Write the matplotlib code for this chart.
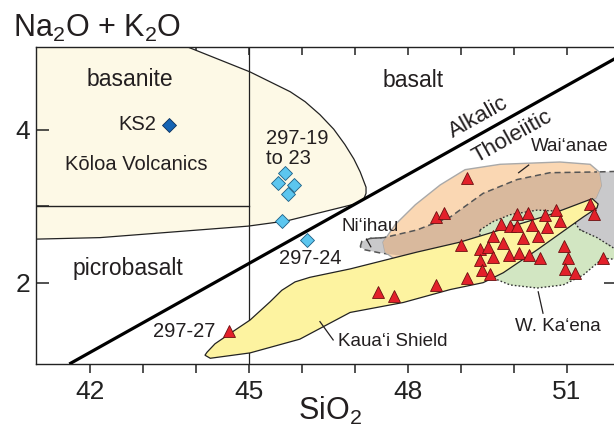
import matplotlib
matplotlib.use("Agg")
import matplotlib.pyplot as plt
from matplotlib.patches import Polygon

plt.rcParams['font.family'] = ['Liberation Sans', 'DejaVu Sans']
plt.rcParams['mathtext.fontset'] = 'custom'
plt.rcParams['mathtext.rm'] = 'Liberation Sans'
plt.rcParams['mathtext.it'] = 'Liberation Sans'

# ---------------- data ----------------
x_major = [42, 45, 48, 51]
x_minor = [43, 44, 46, 47, 49, 50]
y_ticks = [2, 3, 4]
y_labels = ['2', '', '4']

# field outlines (SiO2, Na2O+K2O)
koloa_x = [40.97, 43.83, 45.02, 45.78, 46.06, 46.34, 46.60, 46.81, 46.98, 47.10, 47.21, 47.21, 47.17, 47.00, 45.72, 44.98, 42.19, 40.97]
koloa_y = [5.09, 5.09, 4.76, 4.50, 4.37, 4.20, 4.01, 3.81, 3.62, 3.45, 3.25, 3.17, 3.10, 3.03, 2.81, 2.74, 2.59, 2.57]

niihau_x = [47.10, 47.13, 47.29, 47.55, 48.17, 48.80, 49.42, 50.06, 50.68, 51.57, 52.10, 52.10, 51.89, 51.25, 50.50, 49.36, 48.23, 47.47, 47.19]
niihau_y = [2.47, 2.54, 2.58, 2.59, 2.69, 2.86, 3.17, 3.35, 3.44, 3.45, 3.46, 2.43, 2.45, 2.69, 2.56, 2.36, 2.32, 2.39, 2.43]

waianae_x = [47.53, 47.76, 48.14, 48.61, 49.08, 49.74, 50.87, 51.44, 51.61, 51.65, 51.55, 51.25, 50.50, 49.74, 48.98, 48.23, 47.76, 47.57]
waianae_y = [2.53, 2.76, 3.02, 3.28, 3.48, 3.55, 3.58, 3.55, 3.45, 3.27, 3.11, 3.02, 2.89, 2.72, 2.53, 2.32, 2.30, 2.40]

kaena_x = [49.36, 49.61, 49.93, 50.44, 51.00, 51.25, 51.57, 51.89, 52.00, 51.68, 51.31, 50.93, 50.44, 49.93, 49.61, 49.42, 49.36]
kaena_y = [2.69, 2.80, 2.89, 2.95, 2.93, 2.69, 2.59, 2.45, 2.30, 2.32, 2.10, 1.97, 1.93, 1.97, 2.06, 2.21, 2.43]

kauai_x = [44.21, 44.36, 44.74, 45.02, 45.40, 45.62, 45.87, 46.15, 46.91, 48.17, 48.98, 49.74, 50.68, 51.25, 51.48, 51.59,
           51.57, 51.31, 50.44, 49.80, 49.42, 48.80, 47.91, 46.91, 45.96, 45.02, 44.27, 44.17]
kauai_y = [1.09, 1.20, 1.38, 1.51, 1.75, 1.90, 2.01, 2.07, 2.18, 2.40, 2.53, 2.69, 2.89, 3.04, 3.10, 3.03,
           2.98, 2.86, 2.43, 2.13, 2.00, 1.91, 1.74, 1.61, 1.26, 1.08, 1.01, 1.05]

# boundaries
alk_x = [41.61, 51.95]
alk_y = [0.935, 4.95]
basanite_line_x = [40.97, 45.0]
basanite_line_y = [3.0, 3.0]

# samples
kauai_sio2 = [49.11, 48.53, 48.68, 49.00, 49.75, 50.06, 50.27, 50.59, 50.80, 50.87, 51.43, 51.52, 49.61, 49.92,
              50.18, 50.45, 49.80, 49.36, 49.51, 49.60, 49.90, 50.09, 50.29, 50.50, 49.36, 49.39, 49.55, 49.11,
              48.53, 47.44, 47.74, 50.94, 51.03, 50.97, 51.16, 51.68, 50.06, 50.34, 50.62, 44.63]
kauai_alk = [3.37, 2.86, 2.91, 2.49, 2.77, 2.90, 2.91, 2.89, 2.95, 2.81, 3.03, 2.90, 2.61, 2.74,
             2.58, 2.61, 2.52, 2.44, 2.47, 2.33, 2.36, 2.39, 2.36, 2.32, 2.30, 2.16, 2.11, 2.06,
             1.97, 1.88, 1.82, 2.48, 2.32, 2.18, 2.13, 2.32, 2.74, 2.76, 2.73, 1.37]

s297_sio2 = [45.68, 45.55, 45.85, 45.74, 45.62, 46.10]
s297_alk = [3.43, 3.31, 3.28, 3.16, 2.81, 2.56]

ks2_sio2 = [43.49]
ks2_alk = [4.07]

# ---------------- figure ----------------
fig = plt.figure(figsize=(6.14, 4.34), dpi=100)
ax = fig.add_axes([0.0581, 0.1613, 0.9419, 0.7311])
ax.set_xlim(40.975, 51.89)
ax.set_ylim(0.935, 5.09)

def poly(xs, ys, **kw):
    p = Polygon(list(zip(xs, ys)), closed=True, **kw)
    ax.add_patch(p)
    return p

poly(koloa_x, koloa_y, facecolor='#fdf9e6', edgecolor='#222222', lw=0.9, zorder=1, joinstyle='round')
grey = poly(niihau_x, niihau_y, facecolor='#c9c9cb', edgecolor='#555555', lw=1.1, ls=(0, (4, 2.5)), zorder=2)
tan = poly(waianae_x, waianae_y, facecolor='#fad7b3', edgecolor='#a9a9a9', lw=1.0, zorder=2.5)
over = poly(waianae_x, waianae_y, facecolor='#d9b99d', edgecolor='none', zorder=2.6)
over.set_clip_path(grey)
ax.plot(niihau_x[2:10], niihau_y[2:10], color='#555555', lw=1.1, ls=(0, (4, 2.5)), zorder=2.7)
poly(kaena_x, kaena_y, facecolor='#d2e6c2', edgecolor='#333333', lw=1.0, ls=(0, (1.2, 1.5)), zorder=3)
poly(kauai_x, kauai_y, facecolor='#fdf3a0', edgecolor='#222222', lw=0.9, zorder=4)

ax.axvline(45, color='#222222', lw=0.9, zorder=1.5)
ax.plot(basanite_line_x, basanite_line_y, color='#222222', lw=1.0, zorder=1.5)
ax.plot(alk_x, alk_y, color='black', lw=2.3, zorder=5, solid_capstyle='butt')

ax.plot(kauai_sio2, kauai_alk, ls='none', marker='^', ms=9, mfc='#e3202a', mec='#6b1010', mew=0.6, zorder=6)
ax.plot(s297_sio2, s297_alk, ls='none', marker='D', ms=7.2, mfc='#5cc6ef', mec='#1d5f85', mew=0.6, zorder=6)
ax.plot(ks2_sio2, ks2_alk, ls='none', marker='D', ms=7.2, mfc='#1464b4', mec='#0b2f5a', mew=0.6, zorder=6)

# ---------------- text ----------------
tc = '#231f20'
ax.text(42.755, 4.66, 'basanite', fontsize=16.5, ha='center', va='center', color=tc, zorder=7)
ax.text(48.10, 4.65, 'basalt', fontsize=16.5, ha='center', va='center', color=tc, zorder=7)
ax.text(42.72, 2.19, 'picrobasalt', fontsize=16.5, ha='center', va='center', color=tc, zorder=7)
ax.text(43.25, 4.07, 'KS2', fontsize=14.5, ha='right', va='center', color=tc, zorder=7)
ax.text(42.87, 3.55, 'Kōloa Volcanics', fontsize=14.5, ha='center', va='center', color=tc, zorder=7)
ax.text(45.32, 3.76, '297-19\nto 23', fontsize=14.5, ha='left', va='center', color=tc, zorder=7, linespacing=1.1)
ax.text(46.15, 2.32, '297-24', fontsize=14.5, ha='center', va='center', color=tc, zorder=7)
ax.text(44.36, 1.36, '297-27', fontsize=14.5, ha='right', va='center', color=tc, zorder=7)
ax.text(49.33, 4.16, 'Alkalic', fontsize=16, ha='center', va='center', rotation=29.2, color=tc, zorder=7,
        rotation_mode='anchor')
ax.text(49.97, 3.91, 'Tholeiitic', fontsize=16, ha='center', va='center', rotation=29.2, color=tc, zorder=7,
        rotation_mode='anchor')
ax.text(51.06, 3.78, 'Wai‘anae', fontsize=13.5, ha='center', va='center', color=tc, zorder=7)
ax.plot([50.09, 50.28], [3.44, 3.54], color=tc, lw=0.9, zorder=7)
ax.text(47.28, 2.74, 'Ni‘ihau', fontsize=13.5, ha='center', va='center', color=tc, zorder=7)
ax.plot([47.22, 47.30], [2.57, 2.47], color=tc, lw=0.9, zorder=7)
ax.text(46.68, 1.23, 'Kaua‘i Shield', fontsize=13.5, ha='left', va='center', color=tc, zorder=7)
ax.plot([46.34, 46.59], [1.49, 1.25], color=tc, lw=0.9, zorder=7)
ax.text(50.84, 1.42, 'W. Ka‘ena', fontsize=13.5, ha='center', va='center', color=tc, zorder=7)
ax.plot([50.46, 50.55], [1.88, 1.60], color=tc, lw=0.9, zorder=7)

# ---------------- axes styling ----------------
for s in ['left', 'top', 'bottom']:
    ax.spines[s].set_linewidth(1.0)
    ax.spines[s].set_color('#222222')
ax.spines['right'].set_visible(False)

ax.set_xticks(x_major)
ax.set_xticks(x_minor, minor=True)
ax.set_xticklabels([str(v) for v in x_major])
ax.tick_params(axis='x', which='both', direction='out', length=6.5, width=1.1, top=False,
               labelsize=19, pad=5, colors='#222222')
ax.set_yticks(y_ticks)
ax.set_yticklabels(y_labels)
ax.tick_params(axis='y', which='both', direction='in', length=9.5, width=1.1, right=False,
               labelsize=19, pad=4, colors='#222222')

top = ax.secondary_xaxis('top')
top.set_xticks(x_major + x_minor)
top.tick_params(direction='in', length=6, width=1.1, labeltop=False, colors='#222222')
top.spines['top'].set_visible(False)

right = ax.secondary_yaxis('right')
right.set_yticks([2, 3])
right.tick_params(direction='in', length=7, width=1.1, labelright=False, colors='#222222')
right.spines['right'].set_visible(False)

fig.text(0.021, 0.915, r'Na$_\mathregular{2}$O + K$_\mathregular{2}$O', fontsize=22, ha='left', va='baseline', color=tc)
fig.text(0.5375, 0.032, r'SiO$_\mathregular{2}$', fontsize=22, ha='center', va='baseline', color=tc)

fig.savefig('out.png', dpi=100)
